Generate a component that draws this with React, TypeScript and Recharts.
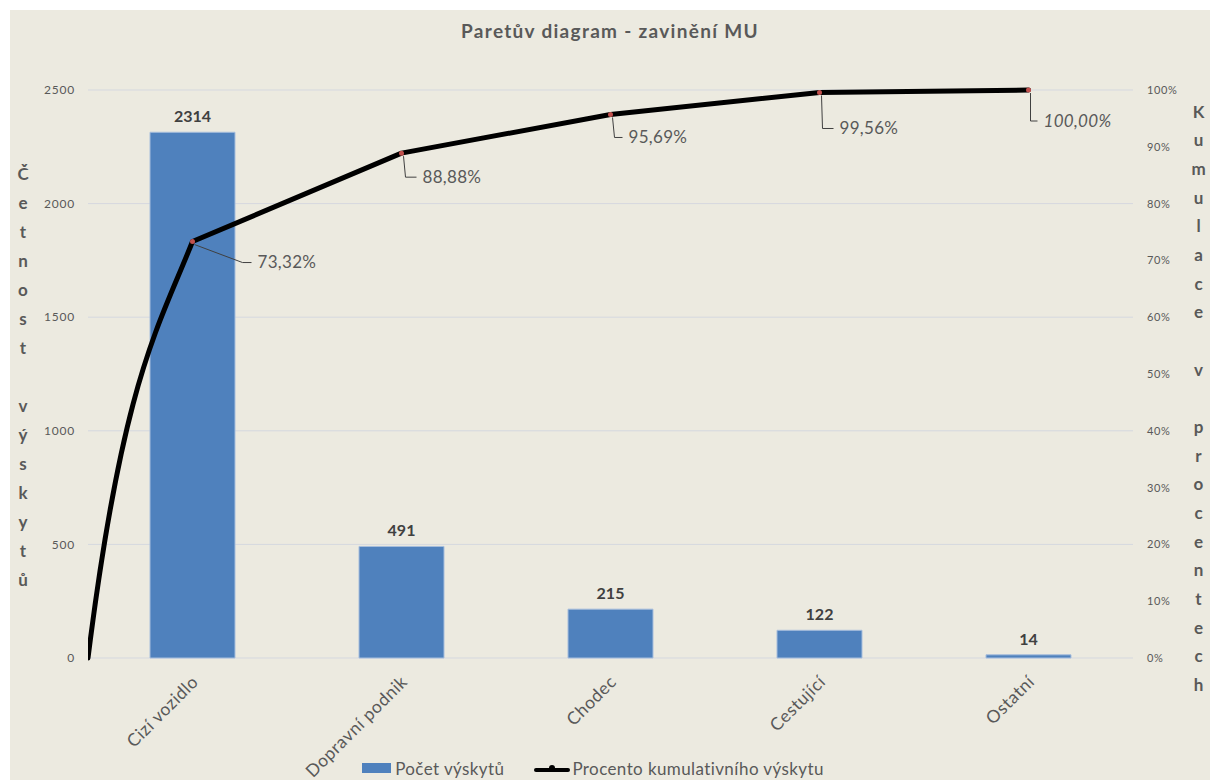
import {
  Bar,
  CartesianGrid,
  ComposedChart,
  LabelList,
  Legend,
  Line,
  XAxis,
  YAxis,
} from "recharts";

const CATEGORIES = ["Cizí vozidlo", "Dopravní podnik", "Chodec", "Cestující", "Ostatní"];
const COUNTS = [2314, 491, 215, 122, 14];
const CUMULATIVE_PCT = [73.32, 88.88, 95.69, 99.56, 100];

const COUNT_TICKS = [0, 500, 1000, 1500, 2000, 2500];
const PCT_TICKS = [0, 10, 20, 30, 40, 50, 60, 70, 80, 90, 100];

const TITLE = "Paretův diagram - zavinění MU";
const LEFT_TITLE = "Četnost výskytů";
const RIGHT_TITLE = "Kumulace v procentech";
const BAR_NAME = "Počet výskytů";
const LINE_NAME = "Procento kumulativního výskytu";

const FONT = "Lato, 'Open Sans', sans-serif";
const TEXT = "#595959";
const BG = "#ECEAE0";
const BAR_COLOR = "#4F81BD";
const GRID = "#D5D8DF";

// leader line + label placement for each cumulative point
const LEADERS = [
  { textDx: 65, textDy: 21, bendDx: 50 },
  { textDx: 21, textDy: 24, bendDx: 4 },
  { textDx: 18, textDy: 23, bendDx: 4 },
  { textDx: 20, textDy: 36, bendDx: 3 },
  { textDx: 15, textDy: 31, bendDx: 2 },
];

const barData = CATEGORIES.map((name, i) => ({ name, count: COUNTS[i] }));

// the cumulative line starts at 0 on the left edge and passes through each category centre
const lineData = [
  { pos: 0, pct: 0 },
  ...CATEGORIES.map((_, i) => ({ pos: i + 0.5, pct: CUMULATIVE_PCT[i] })),
];

const fmtPct = (v: number) => `${v.toFixed(2).replace(".", ",")}%`;

// Smoothed first rise, straight segments after it.
function paretoCurve(context: any) {
  let pts: Array<[number, number]> = [];
  return {
    areaStart() {},
    areaEnd() {},
    lineStart() {
      pts = [];
    },
    point(x: number, y: number) {
      pts.push([+x, +y]);
    },
    lineEnd() {
      if (!pts.length) return;
      context.moveTo(pts[0][0], pts[0][1]);
      for (let i = 1; i < pts.length; i++) {
        const [px, py] = pts[i - 1];
        const [x, y] = pts[i];
        if (i === 1) {
          const h = x - px;
          const s = (y - py) / h;
          context.bezierCurveTo(
            px + h / 3,
            py + (h / 3) * s * 2.0,
            x - h / 3,
            y - (h / 3) * s * 0.63,
            x,
            y,
          );
        } else {
          context.lineTo(x, y);
        }
      }
    },
  };
}

function StackedTitle({ viewBox, text, dx, dy, step }: any) {
  const { x = 0, y = 0 } = viewBox || {};
  return (
    <g>
      {Array.from(text as string).map((ch, i) =>
        ch === " " ? null : (
          <text
            key={i}
            x={x + dx}
            y={y + dy + i * step}
            textAnchor="middle"
            fill={TEXT}
            fontSize={17}
            fontWeight={700}
            fontFamily={FONT}
          >
            {ch}
          </text>
        ),
      )}
    </g>
  );
}

function CategoryTick({ x, y, payload }: any) {
  const ax = x + 7;
  const ay = y + 25;
  return (
    <text
      x={ax}
      y={ay}
      transform={`rotate(-45 ${ax} ${ay})`}
      textAnchor="end"
      fill={TEXT}
      fontSize={17.5}
      letterSpacing={0.5}
      fontFamily={FONT}
    >
      {payload.value}
    </text>
  );
}

function CumulativeLabel(props: any) {
  const { index, value } = props;
  const x = props.viewBox?.x ?? props.x;
  const y = props.viewBox?.y ?? props.y;
  const lead = LEADERS[index - 1];
  if (!lead || x == null || y == null) return null;
  const ty = y + lead.textDy;
  return (
    <g>
      <polyline
        points={`${x + 2},${y + 3} ${x + lead.bendDx},${ty} ${x + lead.textDx - 6},${ty}`}
        fill="none"
        stroke="#404040"
        strokeWidth={1}
      />
      <text
        x={x + lead.textDx}
        y={ty}
        dy="0.35em"
        fill={TEXT}
        fontSize={17}
        letterSpacing={0.3}
        fontFamily={FONT}
        fontStyle={index === CUMULATIVE_PCT.length ? "italic" : "normal"}
      >
        {fmtPct(Number(value))}
      </text>
    </g>
  );
}

function renderDot(props: any) {
  const key = `dot-${props.index}`;
  if (props.index === 0) return <g key={key} />;
  return <circle key={key} cx={props.cx} cy={props.cy} r={2.5} fill="#C0504D" />;
}

function LegendContent() {
  return (
    <div
      style={{
        display: "flex",
        justifyContent: "center",
        alignItems: "center",
        height: 24,
        fontFamily: FONT,
        fontSize: 17,
        letterSpacing: 0.4,
        color: TEXT,
        transform: "translateX(-17px)",
      }}
    >
      <span style={{ display: "inline-block", width: 29, height: 10, background: BAR_COLOR, marginRight: 4 }} />
      <span>{BAR_NAME}</span>
      <svg width={36} height={14} style={{ marginLeft: 30, marginRight: 2 }}>
        <line x1={2} y1={9} x2={34} y2={9} stroke="#000" strokeWidth={4} strokeLinecap="round" />
        <circle cx={18} cy={7} r={3} fill="#000" />
      </svg>
      <span>{LINE_NAME}</span>
    </div>
  );
}

export default function App() {
  return (
    <div
      style={{
        position: "absolute",
        left: 0,
        top: 0,
        width: 1210,
        height: 780,
        background: "#fff",
        overflow: "hidden",
      }}
    >
      <div style={{ position: "absolute", left: 10, top: 10, width: 1200, height: 770, background: BG }}>
        <div
          style={{
            position: "absolute",
            top: 11,
            left: 0,
            width: 1200,
            textAlign: "center",
            fontFamily: FONT,
            fontWeight: 700,
            fontSize: 19,
            letterSpacing: 1.3,
            lineHeight: "20px",
            color: TEXT,
          }}
        >
          {TITLE}
        </div>
        <ComposedChart
          width={1200}
          height={770}
          data={barData}
          margin={{ top: 80, right: 0, bottom: 0, left: 0 }}
        >
          <CartesianGrid xAxisId="cat" yAxisId="left" vertical={false} stroke={GRID} />
          <XAxis
            xAxisId="cat"
            dataKey="name"
            height={98}
            interval={0}
            tickLine={false}
            axisLine={false}
            tickSize={0}
            tickMargin={0}
            tick={<CategoryTick />}
          />
          <XAxis
            xAxisId="cum"
            type="number"
            dataKey="pos"
            domain={[0, CATEGORIES.length]}
            allowDataOverflow
            hide
          />
          <YAxis
            yAxisId="left"
            width={78}
            domain={[0, 2500]}
            ticks={COUNT_TICKS}
            tickLine={false}
            axisLine={false}
            tickSize={0}
            tickMargin={13}
            tick={{ fill: TEXT, fontSize: 12, fontFamily: FONT, letterSpacing: 0.8 }}
            label={(p: any) => (
              <StackedTitle viewBox={p.viewBox} text={LEFT_TITLE} dx={13} dy={89.5} step={29} />
            )}
          />
          <YAxis
            yAxisId="right"
            orientation="right"
            width={77}
            domain={[0, 100]}
            ticks={PCT_TICKS}
            tickFormatter={(v: number) => `${v}%`}
            tickLine={false}
            axisLine={false}
            tickSize={0}
            tickMargin={14}
            tick={{ fill: TEXT, fontSize: 11, fontFamily: FONT, letterSpacing: 0.6 }}
            label={(p: any) => (
              <StackedTitle viewBox={p.viewBox} text={RIGHT_TITLE} dx={65.5} dy={27.8} step={28.65} />
            )}
          />
          <Bar
            xAxisId="cat"
            yAxisId="left"
            dataKey="count"
            name={BAR_NAME}
            barSize={85}
            fill={BAR_COLOR}
            stroke="#A7BEDD"
            strokeWidth={1}
            isAnimationActive={false}
          >
            <LabelList
              dataKey="count"
              position="top"
              offset={10}
              fill="#404040"
              fontSize={16}
              fontWeight={700}
              fontFamily={FONT}
            />
          </Bar>
          <Line
            xAxisId="cum"
            yAxisId="right"
            data={lineData}
            dataKey="pct"
            name={LINE_NAME}
            type={paretoCurve as any}
            stroke="#000"
            strokeWidth={5}
            strokeLinejoin="round"
            strokeLinecap="round"
            dot={renderDot}
            activeDot={false}
            isAnimationActive={false}
          >
            <LabelList dataKey="pct" content={CumulativeLabel} />
          </Line>
          <Legend verticalAlign="bottom" height={24} content={<LegendContent />} />
        </ComposedChart>
      </div>
    </div>
  );
}
